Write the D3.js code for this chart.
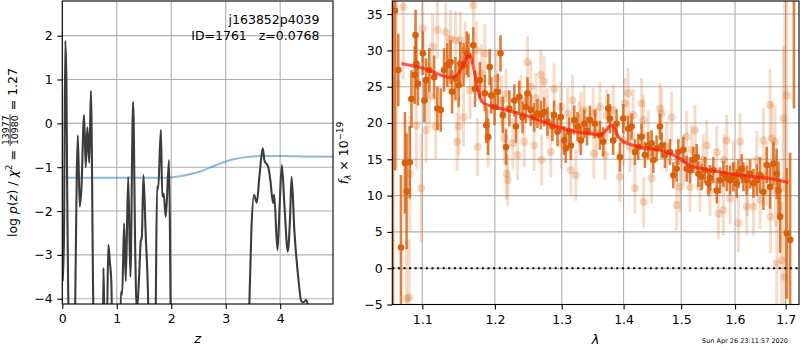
<!DOCTYPE html>
<html>
<head>
<meta charset="utf-8">
<script src="https://cdn.jsdelivr.net/npm/d3@7"></script>
<style>
  body { margin: 0; background: #fff; }
  svg { display: block; font-family: "DejaVu Sans", sans-serif; }
</style>
</head>
<body>
<svg id="fig" width="800" height="350"></svg>
<script>
// ---------------- left panel: log p(z) ----------------
const zTicks = [0, 1, 2, 3, 4];
const logpTicks = [-4, -3, -2, -1, 0, 1, 2];

// redshift grid and log p(z) (values below the axis floor are clipped away)
const zGrid = [
  0.005, 0.03, 0.055, 0.075, 0.09, 0.15, 0.20, 0.235, 0.265, 0.285,
  0.32, 0.35, 0.40, 0.43, 0.46, 0.495, 0.525, 0.57, 0.60, 0.74,
  0.755, 0.775, 0.82, 0.845, 0.875, 0.90, 0.93, 1.05, 1.075, 1.10,
  1.135, 1.165, 1.21, 1.25, 1.30, 1.34, 1.365, 1.41, 1.44, 1.46,
  1.49, 1.53, 1.58, 1.60, 1.70, 1.715, 1.74, 1.76, 1.81, 1.835,
  1.86, 1.90, 1.96, 1.99, 2.02, 3.40, 3.43, 3.47, 3.52, 3.57,
  3.62, 3.68, 3.71, 3.78, 3.82, 3.87, 3.89, 3.95, 3.99, 4.03,
  4.08, 4.14, 4.18, 4.21, 4.26, 4.33, 4.39, 4.43, 4.48, 4.52,
  4.56, 4.97
];
const logPz = [
  -3.6, -2.7, 1.88, 1.0, -1.5, -6, -6, -4.3, -1.2, -0.27,
  -1.9, -1.5, 0.19, -1.0, -0.09, -0.9, 0.74, -4.3, -6, -6,
  -3.3, -4.5, -4.5, -2.77, -3.19, -3.6, -6, -6, -3.84, -3.9,
  -2.28, -3.6, -1.22, -3.5, 0.49, -3.0, -4.3, -3.5, -2.7, -2.6,
  -1.18, -2.5, -4.3, -6, -6, -4.3, -1.44, -1.5, -0.15, -1.67,
  -1.6, -2.13, -0.84, -4.3, -6, -6, -4.3, -2.5, -1.63, -1.81,
  -1.2, -0.57, -0.84, -0.99, -1.3, -1.82, -1.63, -2.89, -1.9, -0.95,
  -1.9, -2.92, -2.2, -1.22, -2.43, -3.49, -4.06, -4.08, -4.03, -4.3,
  -6, -6
];

// prior curve
const zPrior = [0, 1.9, 2.1, 2.28, 2.53, 2.83, 3.14, 3.44, 3.68, 4.05, 4.5, 4.97];
const logPrior = [-1.24, -1.24, -1.22, -1.18, -1.10, -0.95, -0.82, -0.76, -0.745, -0.745, -0.755, -0.76];

// ---------------- right panel: spectrum ----------------
const lamTicks = [1.1, 1.2, 1.3, 1.4, 1.5, 1.6, 1.7];
const fluxTicks = [-5, 0, 5, 10, 15, 20, 25, 30, 35];

// first orient
const lamA = [
  1.0620, 1.0646, 1.0688, 1.0723, 1.0774, 1.0795, 1.0837, 1.0858, 1.0901, 1.0912,
  1.0922, 1.0943, 1.1007, 1.1028, 1.1050, 1.1093, 1.1157, 1.1201, 1.1246, 1.1290,
  1.1334, 1.1379, 1.1400, 1.1446, 1.1490, 1.1513, 1.1557, 1.1602, 1.1625, 1.1694,
  1.1717, 1.1786, 1.1856, 1.1878, 1.1902, 1.1925, 1.1948, 1.1995, 1.2042, 1.2081,
  1.2113, 1.2161, 1.2210, 1.2283, 1.2306, 1.2355, 1.2404, 1.2453, 1.2478, 1.2527,
  1.2578, 1.2628, 1.2678, 1.2729, 1.2780, 1.2856, 1.2882, 1.2934, 1.2986, 1.3038,
  1.3064, 1.3117, 1.3143, 1.3196, 1.3249, 1.3302, 1.3356, 1.3400, 1.3447, 1.3528,
  1.3609, 1.3663, 1.3745, 1.3772, 1.3827, 1.3883, 1.3938, 1.3994, 1.4078, 1.4134,
  1.4191, 1.4248, 1.4305, 1.4362, 1.4420, 1.4478, 1.4507, 1.4565, 1.4623, 1.4653,
  1.4711, 1.4800, 1.4859, 1.4919, 1.4949, 1.5039, 1.5099, 1.5160, 1.5221, 1.5282,
  1.5312, 1.5374, 1.5435, 1.5497, 1.5528, 1.5590, 1.5653, 1.5715, 1.5778, 1.5841,
  1.5905, 1.5969, 1.6032, 1.6065, 1.6129, 1.6161, 1.6226, 1.6291, 1.6356, 1.6422,
  1.6487, 1.6553, 1.6620, 1.6686, 1.6753, 1.6820, 1.6854, 1.6888, 1.7023, 1.7091,
  1.7169
];
const fluxA = [
  -12, 35.5, 27.3, 2.85, 14.5, 10.6, 14.6, 23.3, 26.6, 32.1,
  28.2, 25.4, 29.6, 23.1, 25.9, 27.3, 26.3, 22.0, 21.8, 27.3,
  28.0, 28.4, 24.3, 26.1, 25.2, 28.2, 28.0, 29.6, 29.3, 30.7,
  24.7, 25.9, 24.1, 19.7, 18.1, 27.7, 23.8, 22.2, 24.3, 29.6,
  21.1, 16.7, 22.0, 23.1, 19.5, 23.6, 20.8, 22.2, 24.1, 21.8,
  20.8, 21.3, 21.1, 21.5, 20.2, 19.5, 21.1, 18.8, 20.8, 17.6,
  16.5, 18.8, 16.9, 20.4, 19.5, 17.6, 19.9, 18.9, 20.4, 19.9,
  18.3, 17.4, 22.0, 20.6, 17.6, 19.9, 15.3, 20.6, 19.2, 19.5,
  16.0, 16.7, 18.1, 15.6, 16.9, 17.2, 14.9, 16.5, 19.5, 16.9,
  15.6, 16.0, 12.8, 13.7, 16.0, 16.3, 13.7, 13.5, 14.9, 15.3,
  13.0, 12.6, 13.5, 11.7, 12.4, 13.5, 10.7, 12.1, 13.0, 12.4,
  12.1, 12.6, 11.7, 13.0, 13.7, 12.6, 12.1, 13.0, 11.7, 12.1,
  12.8, 10.5, 14.2, 11.2, 14.4, 13.0, 10.7, 7.1, 4.8, 3.9,
  40
];
const errA = [
  50, 22, 5, 10, 7, 8, 5, 4, 4, 3.5,
  3.5, 3, 3, 3, 3, 3, 3, 3, 3, 3,
  3, 3, 3, 3, 3, 3, 3, 3, 3, 2.5,
  2.5, 2.5, 2.5, 2.5, 2.5, 2.5, 2.5, 2.5, 2.5, 2.5,
  2.5, 2.5, 2.5, 2.2, 2.2, 2.2, 2.2, 2.2, 2.2, 2.2,
  2, 2, 2, 2, 2, 2, 2, 2, 2, 2,
  2, 2, 2, 2, 2, 2, 2, 2, 2, 2,
  2, 2, 2, 2, 2, 2, 2, 2, 1.8, 1.8,
  1.8, 1.8, 1.8, 1.8, 1.8, 1.8, 1.8, 1.8, 1.8, 1.8,
  1.8, 1.8, 1.8, 1.8, 1.8, 1.8, 1.8, 1.8, 1.8, 1.8,
  1.8, 1.8, 1.8, 1.8, 1.8, 1.8, 1.8, 1.8, 1.8, 1.8,
  2, 2, 2, 2, 2, 2, 2, 2, 2, 2.2,
  2.5, 2.5, 2.5, 3, 3, 3.5, 4, 5, 9, 12,
  18
];

// second orient (drawn faint)
const lamB = [
  1.0668, 1.0753, 1.0795, 1.0829, 1.0837, 1.0922, 1.0986, 1.1007, 1.1050, 1.1093,
  1.1136, 1.1179, 1.1201, 1.1313, 1.1357, 1.1379, 1.1446, 1.1468, 1.1490, 1.1513,
  1.1557, 1.1580, 1.1648, 1.1694, 1.1740, 1.1752, 1.1810, 1.1856, 1.1902, 1.2019,
  1.2093, 1.2137, 1.2161, 1.2170, 1.2186, 1.2259, 1.2331, 1.2380, 1.2429, 1.2478,
  1.2527, 1.2578, 1.2603, 1.2678, 1.2690, 1.2729, 1.2780, 1.2831, 1.2882, 1.2986,
  1.2995, 1.3090, 1.3143, 1.3170, 1.3222, 1.3276, 1.3302, 1.3356, 1.3501, 1.3510,
  1.3554, 1.3609, 1.3691, 1.3718, 1.3827, 1.3938, 1.3994, 1.4022, 1.4078, 1.4106,
  1.4162, 1.4191, 1.4305, 1.4334, 1.4340, 1.4420, 1.4478, 1.4623, 1.4653, 1.4741,
  1.4830, 1.4919, 1.4979, 1.5039, 1.5099, 1.5160, 1.5190, 1.5251, 1.5343, 1.5404,
  1.5466, 1.5528, 1.5653, 1.5684, 1.5778, 1.5790, 1.5841, 1.5905, 1.5969, 1.6065,
  1.6097, 1.6226, 1.6235, 1.6356, 1.6422, 1.6487, 1.6553, 1.6620, 1.6686, 1.6695,
  1.6720, 1.6786, 1.6795, 1.6820, 1.6921, 1.6955, 1.6980, 1.7023
];
const fluxB = [
  25.4, 36.0, -4.2, -4.0, 13.0, 19.7, 11.0, 33.0, 19.0, 23.8,
  30.5, 19.5, 32.8, 32.5, 28.0, 31.6, 31.4, 17.4, 19.5, 31.4,
  20.8, 30.0, 24.5, 36.2, 30.0, 16.7, 26.8, 29.6, 17.9, 26.1,
  23.1, 17.9, 24.0, 13.0, 12.1, 17.2, 15.6, 23.1, 17.4, 28.4,
  25.0, 16.9, 23.4, 26.6, 14.9, 25.7, 21.3, 16.0, 24.7, 22.2,
  17.2, 21.3, 13.5, 23.1, 12.8, 19.5, 20.8, 21.8, 21.3, 15.8,
  18.6, 22.2, 15.6, 21.1, 21.8, 12.6, 17.6, 22.7, 24.1, 16.7,
  21.1, 11.0, 22.7, 20.4, 9.1, 18.3, 12.4, 22.0, 21.3, 16.7,
  20.8, 8.7, 11.2, 14.9, 18.1, 11.2, 16.3, 19.0, 11.2, 14.9,
  16.9, 10.7, 16.0, 7.5, 8.0, 14.9, 17.6, 9.6, 14.0, 6.2,
  17.4, 8.5, 11.2, 8.5, 14.9, 9.4, 17.6, 13.0, 22.5, 7.1,
  17.9, 17.4, 10.7, 0.65, 1.1, 20.6, -1.2, 23.8
];
const errB = [
  12, 10, 8, 8, 8, 6, 7.5, 4.5, 4.5, 4.5,
  4.5, 4.5, 4, 4, 4, 4, 4, 4, 4, 4,
  4, 4, 4, 4, 4, 4, 4, 4, 4, 4,
  3.5, 3.5, 3.5, 3.5, 3.5, 3.5, 3.5, 3.5, 3.5, 3.5,
  3.5, 3.5, 3.5, 3.5, 3.5, 3.5, 3.5, 3.5, 3.5, 3.5,
  3.5, 3.5, 3.5, 3.5, 3.5, 3.5, 3.5, 3.5, 3.5, 3.5,
  3.5, 3.5, 3.5, 3.5, 3.5, 3.5, 3.5, 3.5, 3.5, 3.5,
  3.5, 3.5, 3.5, 3.5, 3.5, 3.5, 3.5, 3.5, 3.5, 3.5,
  3.5, 3.5, 3.5, 3.5, 3.5, 3.5, 3.5, 3.5, 3.5, 3.5,
  3.5, 3.5, 3.5, 3.5, 3.5, 3.5, 3.5, 3.5, 3.5, 4,
  4, 4, 4, 4, 4, 4, 4.5, 4.5, 5, 5,
  5, 5, 5, 6, 8, 10, 40, 14
];

// best-fit template
const lamModel = [
  1.073, 1.102, 1.1379, 1.145, 1.150, 1.155, 1.159, 1.1625, 1.166, 1.170,
  1.175, 1.180, 1.186, 1.20, 1.25, 1.292, 1.3447, 1.3609, 1.368, 1.374,
  1.380, 1.385, 1.390, 1.3966, 1.4276, 1.4741, 1.4979, 1.516, 1.5404, 1.5905,
  1.6487, 1.672, 1.7057
];
const fluxModel = [
  28.2, 27.5, 26.3, 26.5, 27.0, 27.9, 28.8, 29.3, 29.0, 27.5,
  25.0, 23.2, 22.6, 22.2, 20.9, 19.5, 18.5, 18.4, 18.7, 19.3,
  19.7, 19.3, 18.3, 17.6, 16.7, 16.0, 15.1, 14.1, 13.7, 13.0,
  12.5, 12.3, 11.8
];

// ---------------- drawing ----------------
const svg = d3.select("#fig");
const FS = 12.5;
const GRID = "#b0b0b0";
const ORANGE = "#d9600b";

const L = { x0: 62.3, x1: 333, y0: 1, y1: 304 };
const R = { x0: 392.3, x1: 799, y0: 1, y1: 304.5 };

const xz = d3.scaleLinear().domain([0, 4.97]).range([L.x0, L.x1]);
const yp = d3.scaleLinear().domain([-4.12, 2.79]).range([L.y1, L.y0]);
const xl = d3.scaleLog().domain([1.0612, 1.7274]).range([R.x0, R.x1]);
const yf = d3.scaleLinear().domain([-5, 36.8]).range([R.y1, R.y0]);

const defs = svg.append("defs");
function clip(id, b) {
  defs.append("clipPath").attr("id", id).append("rect")
    .attr("x", b.x0).attr("y", b.y0).attr("width", b.x1 - b.x0).attr("height", b.y1 - b.y0);
}
clip("clipL", L);
clip("clipR", R);

function grid(b, xs, ys, xt, yt) {
  const g = svg.append("g").attr("stroke", GRID).attr("stroke-width", 1.1);
  xt.forEach(t => g.append("line").attr("x1", xs(t)).attr("x2", xs(t)).attr("y1", b.y0).attr("y2", b.y1));
  yt.forEach(t => g.append("line").attr("x1", b.x0).attr("x2", b.x1).attr("y1", ys(t)).attr("y2", ys(t)));
}

function axes(b, xs, ys, xt, yt, xfmt, yfmt) {
  const gx = svg.append("g").attr("transform", `translate(0,${b.y1})`)
    .call(d3.axisBottom(xs).tickValues(xt).tickFormat(xfmt).tickSize(5).tickPadding(5.5).tickSizeOuter(0));
  const gy = svg.append("g").attr("transform", `translate(${b.x0},0)`)
    .call(d3.axisLeft(ys).tickValues(yt).tickFormat(yfmt).tickSize(5).tickPadding(4.6).tickSizeOuter(0));
  [gx, gy].forEach(g => {
    g.select(".domain").remove();
    g.attr("font-family", null).attr("font-size", null);
    g.selectAll("line").attr("stroke", "#000").attr("stroke-width", 1.1);
    g.selectAll("text").attr("font-size", FS).attr("fill", "#000");
  });
  svg.append("rect").attr("x", b.x0).attr("y", b.y0)
    .attr("width", b.x1 - b.x0).attr("height", b.y1 - b.y0)
    .attr("fill", "none").attr("stroke", "#000").attr("stroke-width", 1.1);
}

// left panel
grid(L, xz, yp, zTicks, logpTicks);
const gL = svg.append("g").attr("clip-path", "url(#clipL)");
gL.append("path")
  .attr("d", d3.line().x((d, i) => xz(zPrior[i])).y(d => yp(d)).curve(d3.curveMonotoneX)(logPrior))
  .attr("fill", "none").attr("stroke", "#1f77b4").attr("stroke-opacity", 0.5).attr("stroke-width", 2);
gL.append("path")
  .attr("d", d3.line().x((d, i) => xz(zGrid[i])).y(d => yp(d)).curve(d3.curveMonotoneX)(logPz))
  .attr("fill", "none").attr("stroke", "#3c3c3c").attr("stroke-width", 2.1).attr("stroke-linejoin", "round");
axes(L, xz, yp, zTicks, logpTicks, d3.format("d"), d3.format("d"));

svg.append("text").attr("x", 319.5).attr("y", 24).attr("text-anchor", "end")
  .attr("font-size", FS).text("j163852p4039");
svg.append("text").attr("x", 319.5).attr("y", 39.5).attr("text-anchor", "end")
  .attr("font-size", FS).style("white-space", "pre").text("ID=1761   z=0.0768");

// right panel
grid(R, xl, yf, lamTicks, fluxTicks);
const gR = svg.append("g").attr("clip-path", "url(#clipR)");

function errSeries(lam, flux, err, opts) {
  const g = gR.append("g");
  lam.forEach((l, i) => {
    g.append("line").attr("x1", xl(l)).attr("x2", xl(l))
      .attr("y1", yf(flux[i] - err[i])).attr("y2", yf(flux[i] + err[i]))
      .attr("stroke", ORANGE).attr("stroke-width", opts.bw).attr("stroke-opacity", opts.barOp);
    g.append("circle").attr("cx", xl(l)).attr("cy", yf(flux[i])).attr("r", opts.r)
      .attr("fill", ORANGE).attr("fill-opacity", opts.dotOp);
  });
}
errSeries(lamB, fluxB, errB, { bw: 3, r: 4, barOp: 0.22, dotOp: 0.25 });
errSeries(lamA, fluxA, errA, { bw: 2.6, r: 3.3, barOp: 0.8, dotOp: 1 });

gR.append("path")
  .attr("d", d3.line().x((d, i) => xl(lamModel[i])).y(d => yf(d)).curve(d3.curveMonotoneX)(fluxModel))
  .attr("fill", "none").attr("stroke", "#ff1a0a").attr("stroke-opacity", 0.72).attr("stroke-width", 3.2)
  .attr("stroke-linejoin", "round");

gR.append("line").attr("x1", R.x0).attr("x2", R.x1).attr("y1", yf(0)).attr("y2", yf(0))
  .attr("stroke", "#000").attr("stroke-width", 2).attr("stroke-dasharray", "2,3.6");

axes(R, xl, yf, lamTicks, fluxTicks, d3.format(".1f"), d3.format("d"));

// axis labels
svg.append("text").attr("x", xz(2.485)).attr("y", 343).attr("text-anchor", "middle")
  .attr("font-size", FS + 0.5).attr("font-style", "italic").text("z");
svg.append("text").attr("x", (R.x0 + R.x1) / 2).attr("y", 344).attr("text-anchor", "middle")
  .attr("font-size", FS + 0.5).attr("font-style", "italic").text("λ");

// rotated mathematical labels built from pieces
function mathLabel(cy, baseX, parts) {
  const outer = svg.append("g").attr("transform", `translate(${baseX},${cy}) rotate(-90)`);
  const inner = outer.append("g");
  let x = 0;
  parts.forEach(p => {
    if (p.frac) {
      const fs = p.fs;
      const num = inner.append("text").attr("font-size", fs).attr("text-anchor", "middle").text(p.frac[0]);
      const den = inner.append("text").attr("font-size", fs).attr("text-anchor", "middle").text(p.frac[1]);
      const w = Math.max(num.node().getComputedTextLength(), den.node().getComputedTextLength()) + 2;
      num.attr("x", x + w / 2).attr("y", -8.6);
      den.attr("x", x + w / 2).attr("y", 0.9);
      inner.append("line").attr("x1", x).attr("x2", x + w).attr("y1", -7.2).attr("y2", -7.2)
        .attr("stroke", "#000").attr("stroke-width", 0.8);
      x += w;
    } else {
      const t = inner.append("text").attr("x", x).attr("y", p.dy || 0)
        .attr("font-size", p.fs || FS).attr("font-style", p.it ? "italic" : "normal")
        .style("white-space", "pre").text(p.t);
      x += t.node().getComputedTextLength();
    }
  });
  inner.attr("transform", `translate(${-x / 2},0)`);
}

mathLabel(152.5, 17.3, [
  { t: "log " }, { t: "p", it: true }, { t: "(" }, { t: "z", it: true }, { t: ") / " },
  { t: "χ", it: true }, { t: "2", fs: 8.8, dy: -5 }, { t: " = " },
  { frac: ["13977", "10980"], fs: 9.4 },
  { t: " = 1.27" }
]);

mathLabel(153, 348, [
  { t: "f", it: true }, { t: "λ", it: true, fs: 8.8, dy: 2.6 }, { t: " × 10" },
  { t: "−19", fs: 8.8, dy: -5.2 }
]);

// timestamp
svg.append("text").attr("x", 788).attr("y", 342.5).attr("text-anchor", "end")
  .attr("font-size", 6.5).text("Sun Apr 26 23:11:57 2020");
</script>
</body>
</html>
